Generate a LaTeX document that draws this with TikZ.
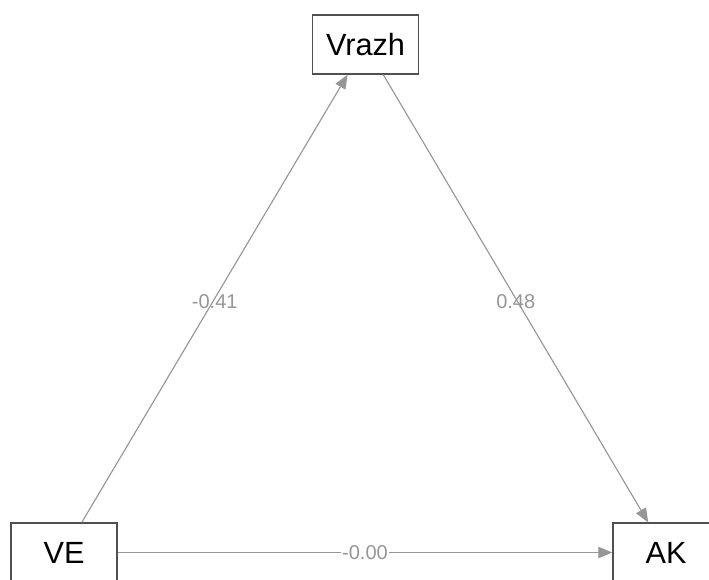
\documentclass[tikz,border=0pt]{standalone}
\usepackage{fontspec}
\setmainfont{Liberation Sans}
\usetikzlibrary{arrows.meta}
\definecolor{edgegray}{RGB}{150,150,150}
\definecolor{boxgray}{RGB}{80,80,80}
\definecolor{labgray}{RGB}{150,150,150}
\tikzset{
  var/.style={draw=boxgray, line width=1pt, fill=white, minimum width=106*0.75pt, minimum height=59*0.75pt, inner sep=0pt, font=\fontsize{23}{27}\selectfont},
  path/.style={draw=edgegray, line width=0.85pt, -{Triangle[length=10.5pt,width=8.5pt]}},
  coef/.style={midway, yshift=-2pt, text=labgray, inner sep=1pt, font=\fontsize{15}{18}\selectfont}
}
\begin{document}
\begin{tikzpicture}[x=0.75pt,y=-0.75pt]
\useasboundingbox (0,0) rectangle (709,579);
\node[var] (vrazh) at (365.5,44.5) {Vrazh};
\node[var] (ve) at (64,552.5) {VE};
\node[var] (ak) at (666,552.5) {AK};
\draw[path] (ve) -- (vrazh) node[coef] {-0.41};
\draw[path] (vrazh) -- (ak) node[coef] {0.48};
\draw[path] (ve) -- (ak) node[coef, yshift=2pt, fill=white] {\raisebox{-1.5pt}{-0.00}};
\end{tikzpicture}
\end{document}
